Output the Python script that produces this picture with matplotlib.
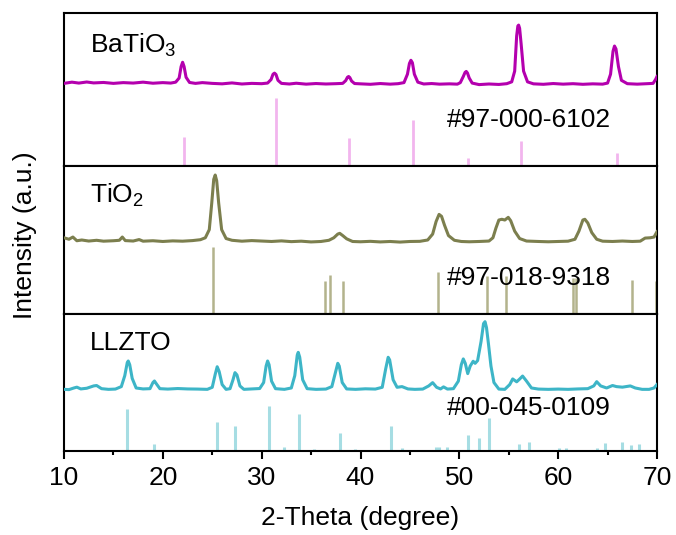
import matplotlib
matplotlib.use("Agg")
import matplotlib.pyplot as plt

plt.rcParams['font.family'] = ['Liberation Sans', 'DejaVu Sans']
plt.rcParams['mathtext.default'] = 'regular'

# ---------------- data ----------------
bt_x = [10, 10.8, 11.5, 12.3, 13, 14, 15, 16, 17, 18, 19, 20, 20.8, 21.3, 21.65, 21.85, 22.0, 22.15, 22.35, 22.7,
        23.3, 24, 25, 26, 27, 28, 29, 30, 30.6, 30.95, 31.15, 31.3, 31.45, 31.65, 32.0, 32.8, 33.5, 34.5, 35.5,
        36.5, 37.5, 38.2, 38.5, 38.68, 38.8, 38.92, 39.1, 39.4, 40, 41, 42, 43, 43.8, 44.4, 44.75, 44.95, 45.1,
        45.25, 45.45, 45.8, 46.4, 47.2, 48, 49, 49.8, 50.1, 50.4, 50.58, 50.7, 50.82, 51.0, 51.3, 52, 53, 54,
        54.8, 55.3, 55.6, 55.8, 55.92, 56.0, 56.1, 56.25, 56.5, 56.9, 57.5, 58.5, 59.5, 60.5, 61.5, 62.5, 63.5,
        64.5, 65.0, 65.3, 65.55, 65.7, 65.85, 66.1, 66.4, 67, 68, 69, 69.6, 69.85, 70]
bt_y = [54.0, 54.8, 54.2, 54.9, 54.3, 54.6, 54.0, 54.5, 54.2, 54.8, 54.1, 54.5, 54.2, 54.8, 57.5, 65.0, 67.8, 65.0,
        58.0, 54.6, 54.0, 54.5, 54.0, 53.7, 54.3, 53.6, 54.0, 53.8, 54.2, 56.5, 60.0, 60.7, 59.8, 56.0, 54.0, 53.6,
        54.1, 53.5, 53.9, 53.6, 53.8, 54.0, 55.8, 58.0, 58.5, 57.8, 55.5, 53.9, 53.7, 53.4, 53.9, 53.5, 53.8, 54.5,
        60.0, 67.0, 69.1, 67.5, 60.0, 54.8, 53.6, 53.9, 53.5, 53.7, 53.5, 54.5, 58.5, 61.2, 61.8, 60.8, 57.5, 54.2,
        53.2, 53.6, 53.3, 53.8, 55.0, 62.0, 85.0, 91.5, 92.1, 90.0, 80.0, 62.0, 55.0, 53.7, 53.4, 53.9, 53.5, 53.8,
        53.4, 53.7, 53.5, 54.2, 60.0, 75.0, 78.4, 76.5, 65.0, 56.0, 53.8, 53.5, 53.8, 54.0, 56.5, 58.5]

ti_x = [10, 10.5, 10.9, 11.3, 11.8, 12.5, 13.3, 14, 15, 15.6, 15.9, 16.2, 17, 17.6, 18, 19, 20, 21, 22, 23, 23.8,
        24.3, 24.7, 24.95, 25.15, 25.3, 25.45, 25.65, 25.95, 26.4, 27, 28, 29, 30, 31, 32, 33, 34, 35, 36, 36.8,
        37.3, 37.7, 37.9, 38.2, 38.6, 39.2, 40, 41, 42, 43, 44, 45, 46, 46.8, 47.3, 47.65, 47.95, 48.2, 48.5, 48.9,
        49.5, 50.2, 51, 52, 53, 53.4, 53.7, 54.0, 54.3, 54.6, 54.95, 55.2, 55.6, 56.1, 56.8, 58, 59, 60, 61, 61.7,
        62.1, 62.5, 62.7, 63.0, 63.4, 63.9, 64.5, 65.5, 66.5, 67.5, 68.3, 68.8, 69.3, 69.7, 70]
ti_y = [51.5, 50.5, 52.0, 49.5, 50.0, 49.3, 49.8, 49.2, 49.5, 49.8, 52.0, 49.6, 49.3, 50.3, 49.2, 49.5, 49.0, 49.4,
        49.2, 49.6, 50.2, 51.5, 57.0, 75.0, 91.0, 93.9, 90.0, 75.0, 57.0, 51.0, 49.8, 49.2, 49.6, 49.3, 49.0, 49.4,
        48.9, 49.2, 48.7, 49.0, 49.8, 51.5, 54.0, 54.5, 53.0, 50.8, 49.0, 48.8, 49.1, 48.7, 49.0, 48.6, 49.0, 49.1,
        50.0, 54.0, 62.5, 67.3, 66.0, 60.0, 53.0, 49.8, 49.0, 48.8, 49.0, 49.3, 51.5, 58.0, 63.5, 64.0, 63.5, 65.3,
        63.0, 56.0, 51.0, 49.3, 49.0, 48.8, 49.0, 49.2, 50.5, 56.0, 63.5, 64.0, 61.5, 55.0, 50.5, 49.2, 49.0, 49.3,
        49.0, 49.2, 51.3, 51.5, 52.0, 55.6]

ll_x = [10, 10.5, 11.0, 11.3, 11.7, 12.3, 13.0, 13.3, 13.8, 14.5, 15.2, 15.8, 16.15, 16.4, 16.5, 16.65, 16.9, 17.3,
        18, 18.7, 19.0, 19.15, 19.35, 19.7, 20.5, 21.5, 22.5, 23.5, 24.5, 25.0, 25.3, 25.5, 25.7, 26.0, 26.4, 26.8,
        27.1, 27.3, 27.5, 27.8, 28.2, 29, 29.8, 30.2, 30.45, 30.6, 30.75, 31.0, 31.4, 32.3, 33.0, 33.35, 33.6, 33.7,
        33.85, 34.15, 34.6, 35.5, 36.5, 37.1, 37.45, 37.7, 37.85, 38.15, 38.6, 39.5, 40.5, 41.5, 42.2, 42.55, 42.8,
        42.95, 43.3, 43.7, 44.2, 44.8, 45.5, 46.3, 46.9, 47.3, 47.7, 48.1, 48.4, 48.8, 49.4, 49.9, 50.2, 50.4, 50.6,
        50.85, 51.1, 51.4, 51.6, 51.85, 52.2, 52.45, 52.6, 52.75, 52.95, 53.2, 53.5, 54.0, 54.6, 55.1, 55.4, 55.8,
        56.1, 56.4, 56.8, 57.3, 58, 59, 60, 61, 62, 63, 63.6, 63.9, 64.3, 64.9, 65.5, 65.9, 66.5, 67.3, 67.8, 68.5,
        69.2, 69.7, 70]
ll_y = [45.0, 44.8, 46.0, 46.6, 45.3, 45.8, 47.5, 47.8, 45.5, 45.0, 45.2, 47.0, 55.0, 64.5, 65.7, 63.0, 53.0, 46.0,
        45.3, 45.5, 50.0, 51.1, 49.0, 45.5, 45.2, 45.6, 45.3, 45.2, 45.0, 46.5, 56.0, 61.5, 58.0, 48.5, 45.0, 45.5,
        52.0, 57.2, 55.5, 47.5, 45.0, 45.3, 45.6, 50.0, 62.0, 65.7, 63.0, 51.0, 45.5, 45.0, 46.0, 55.0, 70.0, 72.0,
        68.5, 52.0, 45.5, 45.0, 45.2, 47.0, 57.0, 64.0, 62.0, 50.0, 45.3, 45.0, 45.4, 45.2, 46.5, 60.0, 68.4, 66.5,
        52.0, 46.5, 47.0, 45.3, 45.0, 45.2, 47.5, 49.9, 46.5, 45.3, 46.8, 45.2, 45.5, 51.0, 63.0, 67.2, 64.0, 56.5,
        62.0, 65.5, 64.0, 66.0, 80.0, 93.0, 94.4, 90.0, 78.0, 62.0, 50.0, 45.2, 45.0, 48.5, 52.6, 50.5, 52.5, 54.7,
        51.0, 46.0, 45.2, 45.0, 45.2, 45.0, 45.3, 45.5, 47.5, 50.6, 47.5, 46.0, 47.8, 47.0, 46.6, 47.5, 46.0, 45.0,
        45.0, 46.0, 48.5]

bt_ref_pos = [22.1, 31.5, 38.8, 45.3, 50.9, 56.2, 66.0]
bt_ref_h = [18.8, 44.2, 18.1, 30.2, 5.5, 16.6, 8.8]

ti_ref_pos = [25.1, 36.4, 36.9, 38.2, 47.8, 52.8, 54.7, 61.5, 61.8, 67.5, 69.9]
ti_ref_h = [45.0, 22.5, 26.4, 22.5, 28.6, 25.9, 25.9, 24.4, 24.4, 23.0, 22.5]

ll_ref_pos = [16.4, 19.1, 25.5, 27.3, 30.7, 32.3, 33.8, 35.3, 37.9, 39.4, 43.1, 44.2, 47.6, 47.9, 48.8, 50.9,
              52.0, 53.0, 56.0, 57.0, 60.1, 60.8, 63.9, 64.7, 66.5, 67.4, 68.2]
ll_ref_h = [30.4, 5.1, 21.4, 18.5, 32.8, 2.9, 26.9, 1.5, 13.1, 1.5, 18.3, 2.4, 3.2, 3.2, 3.2, 11.8, 9.6, 24.1,
            5.1, 6.6, 2.4, 1.9, 1.9, 6.1, 6.8, 4.1, 5.4]

names = ['BaTiO$_3$', 'TiO$_2$', 'LLZTO']
cards = ['#97-000-6102', '#97-018-9318', '#00-045-0109']
x_ticks = [10, 20, 30, 40, 50, 60, 70]

# ---------------- figure ----------------
W, H = 676, 535
FS = 19
fig = plt.figure(figsize=(W / 100, H / 100), dpi=100)
gs = fig.add_gridspec(3, 1, height_ratios=[153, 148, 137], hspace=0,
                      left=64 / W, right=657 / W, top=1 - 13 / H, bottom=1 - 451 / H)
axes = [fig.add_subplot(gs[i]) for i in range(3)]

panels = [
    (bt_x, bt_y, bt_ref_pos, bt_ref_h, '#B400AE', '#F2B5EE', 2.0, (0.79, 0.30)),
    (ti_x, ti_y, ti_ref_pos, ti_ref_h, '#7C7F4E', '#B3B38C', 1.8, (0.80, 0.243)),
    (ll_x, ll_y, ll_ref_pos, ll_ref_h, '#3DB5C7', '#A6DDE3', 2.2, (0.79, 0.314)),
]

for i, (ax, p) in enumerate(zip(axes, panels)):
    x, y, rp, rh, lc, sc, slw, (ty, cy) = p
    ax.vlines(rp, 0, rh, colors=sc, linewidth=slw, zorder=2)
    ax.plot(x, y, color=lc, linewidth=2.2, zorder=3, solid_joinstyle='round')
    ax.set_xlim(10, 70)
    ax.set_ylim(0, 100)
    ax.set_yticks([])
    for s in ax.spines.values():
        s.set_linewidth(1.5)
    ax.text(0.044, ty, names[i], transform=ax.transAxes, fontsize=FS, va='center', ha='left')
    ax.text(0.645, cy, cards[i], transform=ax.transAxes, fontsize=FS, va='center', ha='left')
    if i < 2:
        ax.set_xticks([])
    else:
        ax.set_xticks(x_ticks)
        ax.set_xticks([15, 25, 35, 45, 55, 65], minor=True)
        ax.tick_params(axis='x', which='major', direction='out', length=6, width=1.5, labelsize=FS, pad=5)
        ax.tick_params(axis='x', which='minor', direction='out', length=3, width=1.5)
        ax.set_xlabel('2-Theta (degree)', fontsize=FS, labelpad=11)

fig.text(25 / W, 1 - 235 / H, 'Intensity (a.u.)', rotation=90, fontsize=FS, va='center', ha='center')

fig.savefig('out.png', dpi=100)
